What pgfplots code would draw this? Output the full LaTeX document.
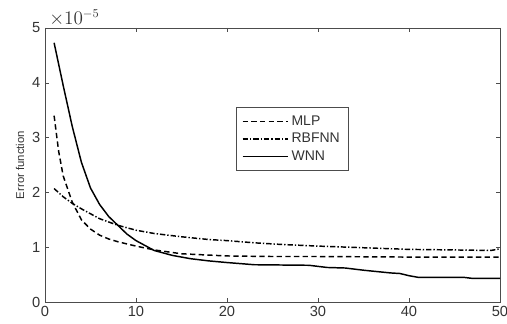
\documentclass[border=0pt]{standalone}
\usepackage{pgfplots}
\pgfplotsset{compat=1.18}
\usepackage{fontspec}
\setmainfont{Liberation Sans}
\begin{document}
\begin{tikzpicture}[x=1pt,y=1pt]
\def\px{0.75}
\begin{axis}[
  scale only axis,
  width=341.25pt, height=205.5pt,
  xmin=0, xmax=50, ymin=0, ymax=5,
  xtick={0,10,20,30,40,50},
  ytick={0,1,2,3,4,5},
  tick align=inside,
  major tick length=3pt,
  axis line style={line width=0.6pt, black!70},
  tick style={black!70},
  ticklabel style={font=\fontsize{11}{12}\selectfont, text=black!80},
  /pgf/number format/assume math mode=true,
  scaled y ticks=false,
  ylabel={Error function},
  ylabel style={font=\fontsize{8.5}{9}\selectfont, text=black!80},
  ylabel shift=-1pt,
  legend style={at={(0.42,0.712)}, anchor=north west, draw=black!70, line width=0.6pt,
    font=\fontsize{10.5}{12}\selectfont, inner xsep=4pt, inner ysep=4pt,
    text=black!80, nodes={inner sep=2.2pt}},
  legend cell align=left,
  legend image code/.code={\draw[#1] (0pt,0pt) -- (34pt,0pt);},
]
\addplot[black, line width=1.1pt, dash pattern=on 4pt off 2.5pt] coordinates {
(1,3.40) (1.5,2.75) (2,2.30) (3,1.82) (4,1.50) (5,1.33) (6,1.22) (7,1.15) (8,1.10)
(10,1.02) (12,0.95) (15,0.88) (20,0.84) (25,0.83) (30,0.83) (40,0.82) (50,0.82)};
\addlegendentry{MLP}
\addplot[black, line width=1.1pt, dash pattern=on 4pt off 1.5pt on 1pt off 1.5pt] coordinates {
(1,2.07) (2,1.92) (3,1.80) (4,1.70) (6,1.52) (8,1.40) (10,1.31) (12,1.25) (15,1.19)
(18,1.14) (20,1.12) (23,1.08) (26,1.05) (30,1.02) (35,0.99) (40,0.96) (45,0.95) (49,0.94) (50,0.97)};
\addlegendentry{RBFNN}
\addplot[black, line width=1.1pt] coordinates {
(1,4.73) (2,3.95) (3,3.20) (4,2.55) (5,2.08) (6,1.78) (7,1.56) (8,1.40) (9,1.24)
(10,1.12) (12,0.94) (14,0.85) (16,0.79) (18,0.75) (20,0.72) (23,0.68) (29,0.67)
(31,0.63) (33,0.62) (35,0.58) (38,0.53) (39,0.52) (40,0.48) (41,0.45) (46,0.45) (47,0.43) (50,0.43)};
\addlegendentry{WNN}
\end{axis}
\node[anchor=south west, inner sep=1pt, font=\fontsize{13.5}{14}\selectfont, text=black!80]
  at ([xshift=2pt]current axis.north west) {$\times10^{-5}$};
\pgfresetboundingbox
\path (current axis.south west) ++(-45*\px,-22*\px) coordinate (bl);
\path (current axis.north east) ++(7*\px,28*\px) coordinate (tr);
\path (bl) rectangle (tr);
\end{tikzpicture}
\end{document}
